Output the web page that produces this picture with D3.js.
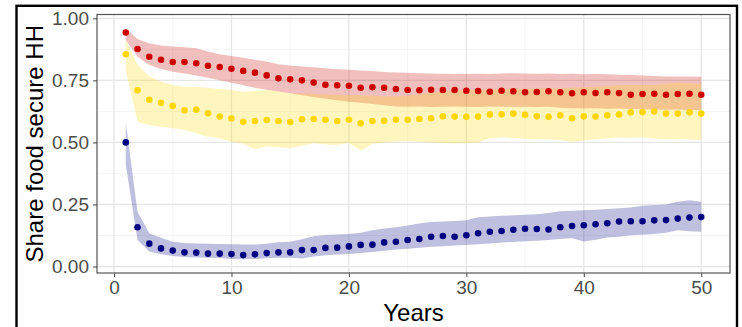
<!DOCTYPE html>
<html>
<head>
<meta charset="utf-8">
<script src="https://cdn.jsdelivr.net/npm/d3@7"></script>
<style>
  body { margin: 0; background: #fff; }
  svg { display: block; font-family: "Liberation Sans", Arial, sans-serif; }
</style>
</head>
<body>
<script>
// ----- Data -----
const years = d3.range(1, 51);

const redMean = [0.943, 0.876, 0.845, 0.833, 0.824, 0.824, 0.819, 0.809, 0.804, 0.797,
  0.788, 0.781, 0.770, 0.758, 0.754, 0.750, 0.741, 0.732, 0.730, 0.728,
  0.720, 0.722, 0.720, 0.715, 0.711, 0.710, 0.712, 0.711, 0.711, 0.708,
  0.707, 0.704, 0.708, 0.706, 0.702, 0.703, 0.706, 0.702, 0.698, 0.702,
  0.699, 0.702, 0.699, 0.692, 0.695, 0.696, 0.692, 0.695, 0.696, 0.692];
const redHigh = [0.960, 0.917, 0.899, 0.890, 0.886, 0.883, 0.879, 0.866, 0.855, 0.848,
  0.841, 0.833, 0.826, 0.815, 0.810, 0.806, 0.803, 0.799, 0.795, 0.793,
  0.790, 0.788, 0.784, 0.782, 0.781, 0.779, 0.778, 0.777, 0.776, 0.776,
  0.777, 0.776, 0.778, 0.779, 0.778, 0.777, 0.778, 0.776, 0.777, 0.775,
  0.776, 0.775, 0.773, 0.772, 0.770, 0.768, 0.766, 0.765, 0.766, 0.764];
const redLow = [0.913, 0.845, 0.812, 0.796, 0.785, 0.778, 0.770, 0.760, 0.750, 0.740,
  0.730, 0.720, 0.712, 0.705, 0.698, 0.690, 0.683, 0.676, 0.670, 0.664,
  0.660, 0.655, 0.650, 0.645, 0.644, 0.645, 0.643, 0.644, 0.645, 0.644,
  0.643, 0.645, 0.644, 0.643, 0.644, 0.643, 0.644, 0.640, 0.638, 0.637,
  0.638, 0.636, 0.637, 0.635, 0.634, 0.633, 0.632, 0.633, 0.631, 0.631];

const goldMean = [0.855, 0.710, 0.672, 0.660, 0.647, 0.629, 0.632, 0.617, 0.604, 0.596,
  0.583, 0.586, 0.590, 0.586, 0.582, 0.593, 0.594, 0.591, 0.586, 0.591,
  0.577, 0.586, 0.587, 0.591, 0.591, 0.594, 0.597, 0.605, 0.604, 0.603,
  0.604, 0.612, 0.613, 0.616, 0.611, 0.605, 0.603, 0.609, 0.597, 0.605,
  0.604, 0.609, 0.612, 0.621, 0.622, 0.624, 0.616, 0.616, 0.621, 0.616];
const goldHigh = [0.915, 0.812, 0.765, 0.745, 0.731, 0.724, 0.724, 0.720, 0.715, 0.711,
  0.704, 0.708, 0.711, 0.706, 0.698, 0.697, 0.695, 0.693, 0.692, 0.691,
  0.690, 0.688, 0.686, 0.685, 0.688, 0.694, 0.700, 0.704, 0.708, 0.711,
  0.712, 0.714, 0.715, 0.717, 0.716, 0.717, 0.718, 0.718, 0.720, 0.722,
  0.724, 0.727, 0.730, 0.731, 0.731, 0.731, 0.736, 0.741, 0.738, 0.735];
const goldLow = [0.790, 0.583, 0.570, 0.563, 0.557, 0.550, 0.537, 0.523, 0.516, 0.503,
  0.495, 0.472, 0.484, 0.480, 0.476, 0.486, 0.497, 0.492, 0.490, 0.498,
  0.467, 0.494, 0.500, 0.504, 0.505, 0.503, 0.500, 0.498, 0.496, 0.497,
  0.500, 0.517, 0.520, 0.518, 0.515, 0.513, 0.512, 0.510, 0.503, 0.508,
  0.512, 0.516, 0.520, 0.519, 0.520, 0.516, 0.512, 0.514, 0.512, 0.510];

const navyMean = [0.500, 0.158, 0.092, 0.073, 0.064, 0.057, 0.056, 0.052, 0.052, 0.050,
  0.046, 0.049, 0.054, 0.057, 0.057, 0.066, 0.066, 0.075, 0.076, 0.081,
  0.087, 0.088, 0.097, 0.100, 0.107, 0.111, 0.120, 0.123, 0.120, 0.126,
  0.134, 0.140, 0.143, 0.148, 0.152, 0.151, 0.149, 0.158, 0.163, 0.166,
  0.170, 0.174, 0.181, 0.182, 0.182, 0.186, 0.187, 0.193, 0.197, 0.199];
const navyHigh = [0.580, 0.221, 0.134, 0.116, 0.100, 0.095, 0.093, 0.092, 0.091, 0.090,
  0.089, 0.089, 0.092, 0.098, 0.100, 0.110, 0.122, 0.127, 0.129, 0.131,
  0.136, 0.146, 0.153, 0.158, 0.165, 0.173, 0.179, 0.181, 0.183, 0.186,
  0.198, 0.201, 0.204, 0.206, 0.208, 0.211, 0.216, 0.223, 0.225, 0.227,
  0.229, 0.232, 0.235, 0.238, 0.245, 0.248, 0.250, 0.261, 0.267, 0.261];
const navyLow = [0.410, 0.107, 0.060, 0.049, 0.042, 0.038, 0.036, 0.035, 0.034, 0.030,
  0.029, 0.030, 0.033, 0.035, 0.035, 0.032, 0.040, 0.045, 0.048, 0.050,
  0.054, 0.058, 0.063, 0.068, 0.072, 0.076, 0.080, 0.082, 0.085, 0.087,
  0.090, 0.093, 0.097, 0.099, 0.102, 0.104, 0.107, 0.111, 0.114, 0.101,
  0.108, 0.117, 0.120, 0.126, 0.128, 0.131, 0.136, 0.146, 0.142, 0.140];

const series = [
  { color: "#CD0000", mean: redMean, low: redLow, high: redHigh },
  { color: "#FFD700", mean: goldMean, low: goldLow, high: goldHigh },
  { color: "#000080", mean: navyMean, low: navyLow, high: navyHigh }
];

const xTicks = [0, 10, 20, 30, 40, 50];
const xMinor = [5, 15, 25, 35, 45];
const yTicks = [0, 0.25, 0.5, 0.75, 1];
const yMinor = [0.125, 0.375, 0.625, 0.875];

// ----- Layout -----
const WIDTH = 742, HEIGHT = 327;
const panel = { left: 97, right: 730, top: 14.5, bottom: 273 };

const svg = d3.select("body").append("svg")
  .attr("width", WIDTH)
  .attr("height", HEIGHT);

// outer frame
svg.append("rect")
  .attr("x", 16.5).attr("y", 5.8)
  .attr("width", 720.5).attr("height", 360)
  .attr("fill", "none")
  .attr("stroke", "#000")
  .attr("stroke-width", 2.4);

const x = d3.scaleLinear().domain([-1.45, 52.45]).range([panel.left, panel.right]);
const y = d3.scaleLinear().domain([-0.0262, 1.0153]).range([panel.bottom, panel.top]);

// ----- Grid -----
const grid = svg.append("g");
grid.selectAll(".xminor").data(xMinor).enter().append("line")
  .attr("x1", d => x(d)).attr("x2", d => x(d))
  .attr("y1", panel.top).attr("y2", panel.bottom)
  .attr("stroke", "#f2f2f2").attr("stroke-width", 0.8);
grid.selectAll(".yminor").data(yMinor).enter().append("line")
  .attr("y1", d => y(d)).attr("y2", d => y(d))
  .attr("x1", panel.left).attr("x2", panel.right)
  .attr("stroke", "#f2f2f2").attr("stroke-width", 0.8);
grid.selectAll(".xmajor").data(xTicks).enter().append("line")
  .attr("x1", d => x(d)).attr("x2", d => x(d))
  .attr("y1", panel.top).attr("y2", panel.bottom)
  .attr("stroke", "#e6e6e6").attr("stroke-width", 1.3);
grid.selectAll(".ymajor").data(yTicks).enter().append("line")
  .attr("y1", d => y(d)).attr("y2", d => y(d))
  .attr("x1", panel.left).attr("x2", panel.right)
  .attr("stroke", "#e6e6e6").attr("stroke-width", 1.3);

// ----- Ribbons -----
const area = d3.area()
  .x((d, i) => x(years[i]))
  .y0(d => y(d[0]))
  .y1(d => y(d[1]));

series.forEach(s => {
  svg.append("path")
    .datum(s.low.map((v, i) => [v, s.high[i]]))
    .attr("d", area)
    .attr("fill", s.color)
    .attr("fill-opacity", 0.25);
});

// ----- Points -----
series.forEach(s => {
  svg.append("g").selectAll("circle")
    .data(s.mean)
    .enter().append("circle")
      .attr("cx", (d, i) => x(years[i]))
      .attr("cy", d => y(d))
      .attr("r", 3.3)
      .attr("fill", s.color);
});

// ----- Panel border -----
svg.append("rect")
  .attr("x", panel.left).attr("y", panel.top)
  .attr("width", panel.right - panel.left)
  .attr("height", panel.bottom - panel.top)
  .attr("fill", "none")
  .attr("stroke", "#555")
  .attr("stroke-width", 1.2);

// ----- Axes -----
const xAxis = svg.append("g")
  .attr("transform", `translate(0,${panel.bottom})`)
  .call(d3.axisBottom(x).tickValues(xTicks).tickSize(4).tickPadding(4).tickFormat(d3.format("d")));
const yAxis = svg.append("g")
  .attr("transform", `translate(${panel.left},0)`)
  .call(d3.axisLeft(y).tickValues(yTicks).tickSize(4).tickPadding(4).tickFormat(d3.format(".2f")));

[xAxis, yAxis].forEach(ax => {
  ax.select(".domain").remove();
  ax.selectAll(".tick line").attr("stroke", "#555").attr("stroke-width", 1.1);
  ax.selectAll(".tick text")
    .attr("fill", "#4d4d4d")
    .style("font-size", "19px")
    .style("font-family", "'Liberation Sans', Arial, sans-serif");
});

// ----- Titles -----
svg.append("text")
  .attr("x", (panel.left + panel.right) / 2)
  .attr("y", 321)
  .attr("text-anchor", "middle")
  .style("font-size", "24px")
  .text("Years");

svg.append("text")
  .attr("transform", `translate(43,${(panel.top + panel.bottom) / 2}) rotate(-90)`)
  .attr("text-anchor", "middle")
  .style("font-size", "24px")
  .text("Share food secure HH");
</script>
</body>
</html>
